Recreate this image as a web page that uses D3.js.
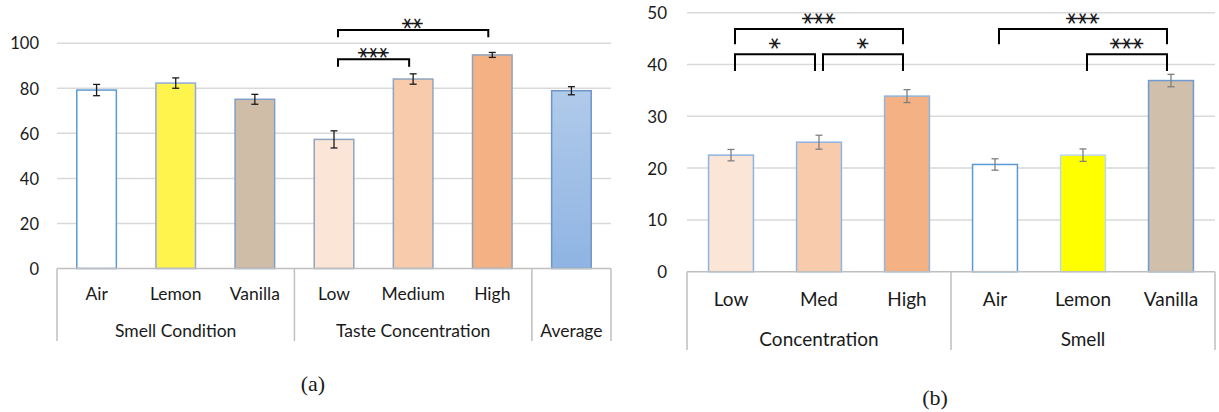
<!DOCTYPE html>
<html>
<head>
<meta charset="utf-8">
<script src="https://cdn.jsdelivr.net/npm/d3@7"></script>
<style>
  html, body { margin: 0; padding: 0; background: #fff; }
  svg { display: block; }
  text { font-family: Lato, "Noto Sans", sans-serif; fill: #1a1a1a; }
</style>
</head>
<body>
<svg id="chart" width="1219" height="412"></svg>
<script>
// ---------- Data: chart (a) ----------
const leftCategories = ["Air", "Lemon", "Vanilla", "Low", "Medium", "High", "Average"];
const leftCategoryLabels = ["Air", "Lemon", "Vanilla", "Low", "Medium", "High", ""];
const leftGroupNames = ["Smell Condition", "Taste Concentration", "Average"];
const leftGroupSizes = [3, 3, 1];
const leftValues = [79.2, 82.3, 75.1, 57.3, 84.1, 94.8, 78.9];
const leftErrors = [2.5, 2.3, 2.2, 3.8, 2.3, 1.1, 1.8];
const leftTicks = [0, 20, 40, 60, 80, 100];
const leftFills = ["#ffffff", "#fff34d", "#d0bda8", "#fbe5d6", "#f8cbad", "#f4b183", "url(#avgGrad)"];
const leftStrokes = ["#5b9bd5", "#8faadc", "#7f9fc6", "#8ea5c0", "#8ea5c0", "#8ea5c0", "#6e96c8"];
// significance: from index, to index, label, bracket value (top), drop value
const leftSigFrom = [3, 3];
const leftSigTo = [4, 5];
const leftSigLabels = ["***", "**"];
const leftSigTop = [92.9, 105.9];
const leftSigDrop = [89.6, 102.6];

// ---------- Data: chart (b) ----------
const rightCategories = ["Low", "Med", "High", "Air", "Lemon", "Vanilla"];
const rightCategoryLabels = ["Low", "Med", "High", "Air", "Lemon", "Vanilla"];
const rightGroupNames = ["Concentration", "Smell"];
const rightGroupSizes = [3, 3];
const rightValues = [22.5, 25.0, 33.9, 20.7, 22.5, 36.9];
const rightErrors = [1.1, 1.35, 1.25, 1.1, 1.2, 1.2];
const rightTicks = [0, 10, 20, 30, 40, 50];
const rightFills = ["#fbe5d6", "#f8cbad", "#f4b183", "#ffffff", "#ffff00", "#d0bfaa"];
const rightStrokes = ["#8db4e2", "#8db4e2", "#8db4e2", "#5b9bd5", "#bdd7ee", "#6f9bd0"];
const rightSigFrom = [0, 1, 0, 3, 4];
const rightSigTo = [1, 2, 2, 5, 5];
const rightSigLabels = ["*", "*", "***", "***", "***"];
const rightSigTop = [42.0, 42.0, 46.85, 46.85, 42.0];
const rightSigDrop = [38.75, 38.75, 43.9, 43.9, 38.75];

const svg = d3.select("#chart");
const defs = svg.append("defs");
const grad = defs.append("linearGradient").attr("id", "avgGrad")
  .attr("x1", 0).attr("y1", 0).attr("x2", 0).attr("y2", 1);
grad.append("stop").attr("offset", "0%").attr("stop-color", "#b0caea");
grad.append("stop").attr("offset", "100%").attr("stop-color", "#8fb4e3");

function drawChart(cfg) {
  const g = svg.append("g");
  const x = d3.scaleBand().domain(cfg.cats).range([cfg.x0, cfg.x1])
    .paddingInner(cfg.padIn).paddingOuter(cfg.padIn / 2);
  const y = d3.scaleLinear().domain([0, cfg.ticks[cfg.ticks.length - 1]]).range([cfg.y0, cfg.yTop]);
  const step = x.step();
  const bw = x.bandwidth();
  const cx = i => x(cfg.cats[i]) + bw / 2;

  // gridlines
  g.append("g").selectAll("line").data(cfg.ticks.filter(t => t > 0)).join("line")
    .attr("x1", cfg.x0).attr("x2", cfg.x1)
    .attr("y1", d => y(d)).attr("y2", d => y(d))
    .attr("stroke", "#d9d9d9").attr("stroke-width", 1.5);

  // y axis labels via d3 axis
  const yAxis = g.append("g").attr("transform", `translate(${cfg.labelX},0)`)
    .call(d3.axisLeft(y).tickValues(cfg.ticks).tickSize(0).tickPadding(0).tickFormat(d3.format("d")));
  yAxis.select(".domain").remove();
  yAxis.selectAll("text").style("font-family", "Lato, sans-serif").style("font-size", cfg.tickFont + "px")
    .attr("fill", "#1a1a1a").attr("dy", "0.35em");

  // bars
  g.append("g").selectAll("rect").data(cfg.values).join("rect")
    .attr("x", (d, i) => x(cfg.cats[i]))
    .attr("y", d => y(d))
    .attr("width", bw)
    .attr("height", d => y(0) - y(d))
    .attr("fill", (d, i) => cfg.fills[i])
    .attr("stroke", (d, i) => cfg.strokes[i])
    .attr("stroke-width", 1.5);

  // error bars
  const eb = g.append("g").attr("stroke", cfg.errColor).attr("stroke-width", 1.3);
  cfg.values.forEach((v, i) => {
    const e = cfg.errors[i];
    const c = cx(i);
    eb.append("line").attr("x1", c).attr("x2", c).attr("y1", y(v - e)).attr("y2", y(v + e));
    eb.append("line").attr("x1", c - 3.5).attr("x2", c + 3.5).attr("y1", y(v - e)).attr("y2", y(v - e));
    eb.append("line").attr("x1", c - 3.5).attr("x2", c + 3.5).attr("y1", y(v + e)).attr("y2", y(v + e));
  });

  // axis line + category boxes
  g.append("line").attr("x1", cfg.x0).attr("x2", cfg.x1).attr("y1", y(0)).attr("y2", y(0))
    .attr("stroke", "#bfbfbf").attr("stroke-width", 1.5);
  let idx = 0;
  const bounds = [0];
  cfg.groupSizes.forEach(s => { idx += s; bounds.push(idx); });
  g.append("g").selectAll("line").data(bounds).join("line")
    .attr("x1", d => cfg.x0 + d * step).attr("x2", d => cfg.x0 + d * step)
    .attr("y1", y(0)).attr("y2", cfg.boxBottom)
    .attr("stroke", "#bfbfbf").attr("stroke-width", 1.5);

  // category labels
  g.append("g").selectAll("text").data(cfg.catLabels.filter(d => d !== "")).join("text")
    .attr("x", d => cx(cfg.catLabels.indexOf(d))).attr("y", cfg.catY).attr("dy", "0.35em")
    .attr("text-anchor", "middle").style("font-size", cfg.labelFont + "px").text(d => d);
  // group labels
  g.append("g").selectAll("text").data(cfg.groupNames).join("text")
    .attr("x", (d, i) => cfg.x0 + (bounds[i] + bounds[i + 1]) / 2 * step)
    .attr("y", cfg.groupY).attr("dy", "0.35em")
    .attr("text-anchor", "middle").style("font-size", cfg.labelFont + "px").text(d => d);

  // significance brackets
  const sg = g.append("g");
  cfg.sigFrom.forEach((f, k) => {
    const xa = cx(f) + 4, xb = cx(cfg.sigTo[k]) - 4;
    const yt = y(cfg.sigTop[k]), yd = y(cfg.sigDrop[k]);
    sg.append("path").attr("d", `M${xa},${yd}V${yt}H${xb}V${yd}`)
      .attr("fill", "none").attr("stroke", "#000").attr("stroke-width", 2);
    const lab = cfg.sigLabels[k];
    const mid = (xa + xb) / 2;
    const n = lab.length;
    for (let j = 0; j < n; j++) {
      const sx = mid + (j - (n - 1) / 2) * cfg.starGap;
      const sy = yt - cfg.starOffset;
      sg.append("text").attr("x", sx).attr("y", sy)
        .attr("text-anchor", "middle").attr("dominant-baseline", "central")
        .attr("transform", `rotate(90,${sx},${sy})`)
        .style("font-family", "DejaVu Sans, sans-serif").style("font-size", cfg.starFont + "px")
        .attr("fill", cfg.starColor).text("\u2217");
    }
  });

  // caption
  g.append("text").attr("x", cfg.capX).attr("y", cfg.capY).attr("dy", "0.35em")
    .attr("text-anchor", "middle")
    .style("font-family", "'Liberation Serif', 'DejaVu Serif', serif").style("font-size", "22px")
    .text(cfg.caption);
}

drawChart({
  cats: leftCategories, catLabels: leftCategoryLabels, values: leftValues, errors: leftErrors, ticks: leftTicks,
  fills: leftFills, strokes: leftStrokes, groupNames: leftGroupNames, groupSizes: leftGroupSizes,
  sigFrom: leftSigFrom, sigTo: leftSigTo, sigLabels: leftSigLabels, sigTop: leftSigTop, sigDrop: leftSigDrop,
  x0: 57, x1: 611, y0: 268.5, yTop: 43.2, padIn: 0.5, labelX: 39, tickFont: 16.5, labelFont: 17.5,
  boxBottom: 341, catY: 294, groupY: 331, errColor: "#1a1a1a",
  starGap: 10, starOffset: 6.5, starFont: 17, starColor: "#333",
  caption: "(a)", capX: 313, capY: 383
});

drawChart({
  cats: rightCategories, catLabels: rightCategoryLabels, values: rightValues, errors: rightErrors, ticks: rightTicks,
  fills: rightFills, strokes: rightStrokes, groupNames: rightGroupNames, groupSizes: rightGroupSizes,
  sigFrom: rightSigFrom, sigTo: rightSigTo, sigLabels: rightSigLabels, sigTop: rightSigTop, sigDrop: rightSigDrop,
  x0: 687, x1: 1215, y0: 271.7, yTop: 12.7, padIn: 0.49, labelX: 667, tickFont: 17, labelFont: 19,
  boxBottom: 350, catY: 299, groupY: 339, errColor: "#7f7f7f",
  starGap: 11, starOffset: 10.5, starFont: 18, starColor: "#333",
  caption: "(b)", capX: 935, capY: 397
});
</script>
</body>
</html>
